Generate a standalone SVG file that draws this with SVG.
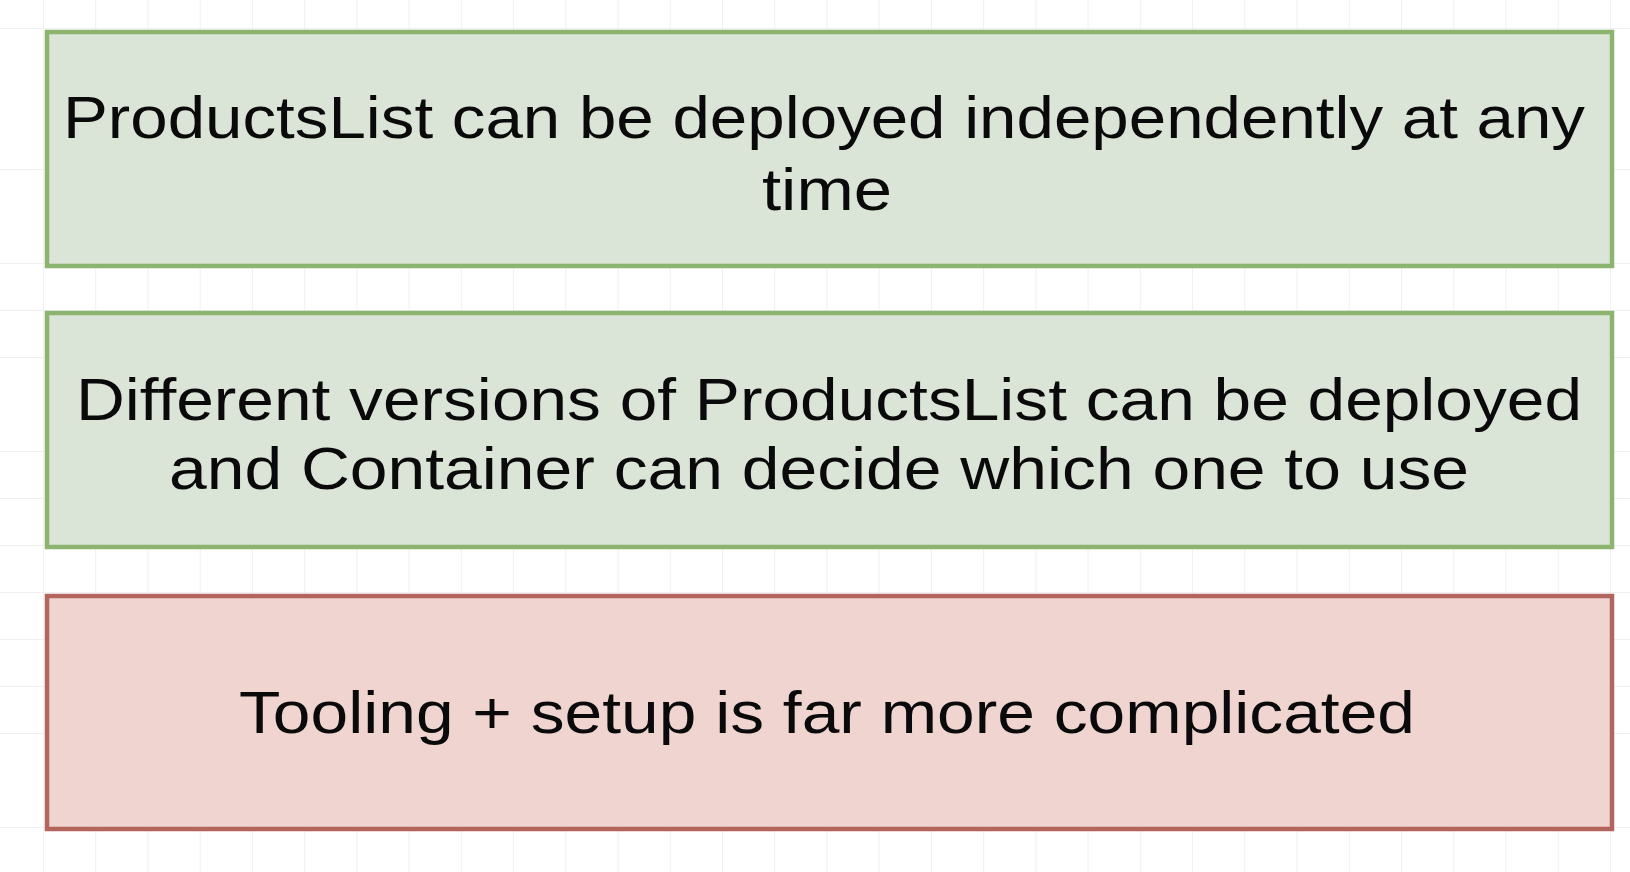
<svg xmlns="http://www.w3.org/2000/svg" width="1630" height="872" viewBox="0 0 1630 872">
  <defs>
    <pattern id="grid" x="43" y="28" width="52.23" height="47" patternUnits="userSpaceOnUse">
      <path d="M0 0 V47 M0 0 H52.23" fill="none" stroke="#ececec" stroke-width="1.5"/>
    </pattern>
    <style>
      .txt { font-family: "Liberation Sans", Arial, sans-serif; font-size: 60px; fill: #0a0a0a; text-anchor: middle; }
      .good rect { fill: #dae4d7; stroke: #8db46f; stroke-width: 4.5; }
      .bad rect { fill: #efd4d0; stroke: #b3645c; stroke-width: 4.5; }
    </style>
  </defs>
  <rect x="0" y="0" width="1630" height="872" fill="#ffffff"/>
  <rect x="0" y="0" width="1630" height="872" fill="url(#grid)"/>
  <g id="node-deploy-independently" class="good">
    <rect x="47" y="32" width="1565" height="234"/>
    <text class="txt" x="824" y="138" textLength="1522" lengthAdjust="spacingAndGlyphs">ProductsList can be deployed independently at any</text>
    <text class="txt" x="827" y="210" textLength="130" lengthAdjust="spacingAndGlyphs">time</text>
  </g>
  <g id="node-different-versions" class="good">
    <rect x="47" y="313" width="1565" height="234"/>
    <text class="txt" x="829" y="420" textLength="1506" lengthAdjust="spacingAndGlyphs">Different versions of ProductsList can be deployed</text>
    <text class="txt" x="819" y="489" textLength="1300" lengthAdjust="spacingAndGlyphs">and Container can decide which one to use</text>
  </g>
  <g id="node-tooling" class="bad">
    <rect x="47" y="596" width="1565" height="233"/>
    <text class="txt" x="827" y="733" textLength="1176" lengthAdjust="spacingAndGlyphs">Tooling + setup is far more complicated</text>
  </g>
  <g id="connectors"/>
</svg>
